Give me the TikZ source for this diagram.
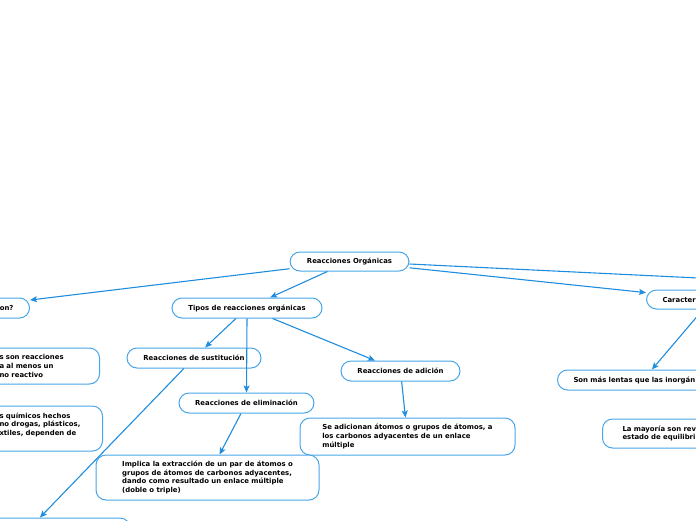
\documentclass[tikz,border=0pt]{standalone}
\usepackage{fontspec}
\setmainfont{DejaVu Sans}
\usetikzlibrary{arrows.meta}
\definecolor{nodeblue}{RGB}{72,166,232}
\definecolor{linkblue}{RGB}{30,141,222}
\tikzset{
  box/.style={draw=nodeblue, line width=1pt, rounded corners=10pt, fill=white,
    font=\fontsize{6.9}{8.7}\selectfont\bfseries, text=black, inner ysep=0pt},
  arr/.style={draw=linkblue, line width=1.1pt, -{Stealth[length=7pt,width=6pt,inset=1.5pt]}},
  lnk/.style={draw=linkblue, line width=1.1pt},
}
\begin{document}
\begin{tikzpicture}[x=1pt,y=-1pt]
\useasboundingbox (0,0) rectangle (696,520);
\clip (0,0) rectangle (696,520);
% main nodes
\node[box, minimum width=119pt, minimum height=19pt] (root) at (349.5,261.5) {Reacciones Orgánicas};
\node[box, minimum width=150pt, minimum height=20pt] (tipos) at (247,308) {Tipos de reacciones orgánicas};
\node[box, minimum width=134pt, minimum height=20pt] (sust) at (194,358) {Reacciones de sustitución};
\node[box, minimum width=135pt, minimum height=20pt] (elim) at (246.5,403) {Reacciones de eliminación};
\node[box, minimum width=119pt, minimum height=20pt] (adic) at (400.5,371) {Reacciones de adición};
\node[box, minimum width=215pt, minimum height=37pt, align=left] (seadic) at (407.5,436.5)
  {Se adicionan átomos o grupos de átomos, a\\los carbonos adyacentes de un enlace\\múltiple};
\node[box, minimum width=223pt, minimum height=45pt, align=left] (implica) at (207.5,477.5)
  {Implica la extracción de un par de átomos o\\grupos de átomos de carbonos adyacentes,\\dando como resultado un enlace múltiple\\(doble o triple)};
% clipped nodes on the left
\node[box, anchor=east, minimum height=20pt, text width=100pt, inner xsep=16pt, align=right] (que) at (30,308) {on?};
\node[box, anchor=east, minimum height=36pt, text width=80pt, inner xsep=20pt, align=left] (def) at (100,366)
  {s son reacciones\\a al menos un\\no reactivo};
\node[box, anchor=east, minimum height=45pt, text width=93pt, inner xsep=10pt, align=left] (uso) at (103,428.5)
  {s químicos hechos\\no drogas, plásticos,\\xtiles, dependen de\\\hspace*{-4pt}s};
\node[box, minimum width=210pt, minimum height=30pt] (bottom) at (25,533) {};
% clipped nodes on the right
\node[box, anchor=west, minimum height=19pt, text width=98pt, inner xsep=16pt, align=left] (carac) at (646,299.5) {Caracterí};
\node[box, anchor=west, minimum height=20pt, text width=139pt, inner xsep=16pt, align=left] (lentas) at (557,380) {Son más lentas que las inorgán};
\node[box, anchor=west, minimum height=29pt, text width=150pt, inner xsep=20pt, align=left] (mayoria) at (602,433.5) {La mayoría son rev\\estado de equilibri};
\coordinate (offright) at (760,281);
% connectors
\draw[arr] (root) -- (que);
\draw[arr] (root) -- (tipos);
\draw[arr] (root) -- (carac);
\draw[lnk] ([yshift=-2.5pt]root.east) -- (offright);
\draw[arr] (tipos) -- (sust);
\draw[arr] (tipos.south) -- (elim.north);
\draw[arr] (tipos) -- (adic);
\draw[arr] (adic) -- (seadic);
\draw[arr] (elim) -- (implica);
\draw[arr] (sust) -- (bottom);
\draw[arr] (carac) -- (lentas);
\end{tikzpicture}
\end{document}
